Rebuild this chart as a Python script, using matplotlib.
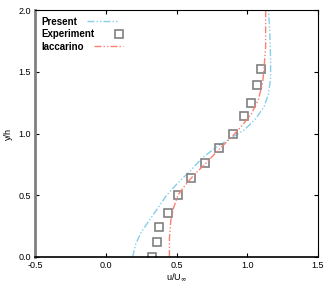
import matplotlib
matplotlib.use("Agg")
import matplotlib.pyplot as plt
import numpy as np

# Present (simulation)
present_u = [0.19, 0.21, 0.25, 0.31, 0.37, 0.43, 0.51, 0.60, 0.68, 0.77, 0.88, 0.98, 1.06, 1.12, 1.15, 1.165, 1.165, 1.16, 1.15]
present_y = [0.0, 0.1, 0.2, 0.3, 0.4, 0.5, 0.6, 0.70, 0.8, 0.88, 0.96, 1.03, 1.12, 1.22, 1.32, 1.45, 1.6, 1.8, 2.0]

# Experiment
exp_u = [0.33, 0.365, 0.375, 0.44, 0.51, 0.60, 0.70, 0.80, 0.90, 0.98, 1.03, 1.07, 1.10]
exp_y = [0.0, 0.12, 0.24, 0.36, 0.50, 0.64, 0.76, 0.88, 1.00, 1.14, 1.25, 1.39, 1.52]

# Iaccarino
iac_u = [0.45, 0.45, 0.46, 0.48, 0.51, 0.56, 0.62, 0.70, 0.79, 0.88, 0.96, 1.03, 1.08, 1.11, 1.12, 1.13, 1.13]
iac_y = [0.0, 0.15, 0.3, 0.4, 0.5, 0.58, 0.66, 0.75, 0.86, 0.96, 1.06, 1.16, 1.28, 1.42, 1.55, 1.7, 2.0]

plt.rcParams['font.family'] = ['Liberation Sans', 'DejaVu Sans']
plt.rcParams['font.size'] = 6.5

fig = plt.figure(figsize=(3.32, 2.95), dpi=100)
ax = fig.add_axes([35/332, 38/295, 283/332, 247/295])

ax.plot(present_u, present_y, color="#87ceeb", lw=1.0, dashes=[5, 1.5, 1, 1.5, 1, 1.5], label="Present")
ax.plot(exp_u, exp_y, ls="none", marker="s", ms=5.5, mfc="none", mec="#808080", mew=1.2, label="Experiment")
ax.plot(iac_u, iac_y, color="#fa8072", lw=1.0, dashes=[5, 1.5, 1, 1.5, 1, 1.5], label="Iaccarino")

ax.set_xlim(-0.5, 1.5)
ax.set_ylim(0, 2.0)
ax.set_xticks(np.arange(-0.5, 1.51, 0.5))
ax.set_yticks(np.arange(0, 2.01, 0.5))
ax.xaxis.set_major_formatter(matplotlib.ticker.FormatStrFormatter('%.1f'))
ax.yaxis.set_major_formatter(matplotlib.ticker.FormatStrFormatter('%.1f'))
ax.tick_params(direction="in", top=True, right=True, length=3, width=0.8, pad=3)

ax.spines['left'].set_color("#808080")
ax.spines['left'].set_linewidth(2)
ax.spines['bottom'].set_linewidth(1.2)

ax.set_xlabel(r"u/U$_\infty$", labelpad=1)
ax.set_ylabel("y/h", labelpad=4)

leg = ax.legend(loc="upper left", frameon=False, markerfirst=False, handlelength=3.0,
                borderaxespad=0.3, labelspacing=0.25, handletextpad=1.0,
                prop={'weight': 'bold', 'size': 7})
# left-align the label texts (markerfirst=False right-aligns them by default)
for col in leg._legend_handle_box.get_children():
    col.align = "left"

fig.savefig("out.png", dpi=100)
